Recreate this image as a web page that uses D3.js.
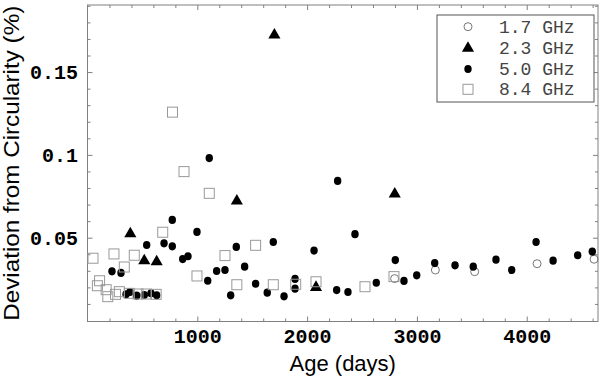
<!DOCTYPE html>
<html><head><meta charset="utf-8">
<script src="https://cdn.jsdelivr.net/npm/d3@7"></script>
<style>body{margin:0;background:#fff}svg{display:block}</style>
</head><body><svg id="c" width="600" height="380"></svg>
<script>
const ages17 = [2797, 3168, 3526, 4094, 4613];
const dev17  = [0.0253, 0.0305, 0.0295, 0.0343, 0.0370];

const ages23 = [390, 517, 630, 1360, 1702, 2081, 2798];
const dev23  = [0.0524, 0.0361, 0.0355, 0.0722, 0.1724, 0.0200, 0.0764];

const ages50 = [223, 305, 351, 387, 448, 517, 539, 578, 630, 697, 772, 772, 867, 915, 997, 1095, 1109, 1176, 1252, 1304,
  1355, 1431, 1531, 1637, 1692, 1790, 1890, 1890, 2063, 2269, 2278, 2372, 2436, 2630, 2803, 2882, 2998, 3162, 3347, 3513,
  3720, 3863, 4085, 4240, 4464, 4597];
const dev50  = [0.0297, 0.0287, 0.0158, 0.0172, 0.0150, 0.0154, 0.0456, 0.0164, 0.0152, 0.0466, 0.0607, 0.0448, 0.0371, 0.0388, 0.0535, 0.0240, 0.0981, 0.0299, 0.0305, 0.0152,
  0.0444, 0.0325, 0.0222, 0.0168, 0.0474, 0.0146, 0.0251, 0.0192, 0.0422, 0.0184, 0.0843, 0.0172, 0.0521, 0.0228, 0.0365, 0.0239, 0.0273, 0.0347, 0.0333, 0.0325,
  0.0367, 0.0305, 0.0474, 0.0361, 0.0394, 0.0416];

const ages84 = [50, 90, 110, 170, 185, 241, 255, 290, 335, 381, 426, 460, 536, 625, 685, 774, 879, 997, 1109, 1252, 1360, 1531, 1692, 1896, 2081, 2527, 2791];
const dev84  = [0.0376, 0.0210, 0.0240, 0.0186, 0.0144, 0.0402, 0.0158, 0.0174, 0.0323, 0.0164, 0.0394, 0.0160, 0.0160, 0.0158, 0.0533, 0.1258, 0.0899, 0.0269, 0.0768, 0.0392, 0.0216, 0.0454, 0.0216, 0.0219, 0.0234, 0.0204, 0.0265];

const xMajor = [1000, 2000, 3000, 4000];
const yMajor = [0.05, 0.1, 0.15];
const yLabels = ["0.05", "0.1", "0.15"];
const legendLabels = ["1.7 GHz", "2.3 GHz", "5.0 GHz", "8.4 GHz"];

const svg = d3.select("#c");
const L = 87.5, R = 598, T = 5, B = 321.5;
const x = d3.scaleLinear().domain([0, 4649]).range([L, R]);
const y = d3.scaleLinear().domain([-0.0006, 0.1905]).range([B, T]);

const xMinor = d3.range(200, 4650, 200).filter(v => v % 1000 !== 0);
const yMinor = d3.range(1, 20).map(v => v / 100).filter(v => Math.round(v * 100) % 5 !== 0);

const tickCol = "#808080";
function styleAxis(g) {
  g.select(".domain").remove();
  g.selectAll(".tick line").attr("stroke", tickCol);
}
// bottom
svg.append("g").attr("transform", `translate(0,${B})`)
  .call(d3.axisBottom(x).tickValues(xMinor).tickSize(-3).tickFormat("")).call(styleAxis);
svg.append("g").attr("transform", `translate(0,${B})`)
  .call(d3.axisBottom(x).tickValues(xMajor).tickSize(-5).tickPadding(7).tickFormat(d3.format("d")))
  .call(styleAxis)
  .selectAll("text").attr("font-family", "'Liberation Mono', monospace").attr("font-weight", "bold")
  .attr("font-size", 20).attr("fill", "#000");
// top
svg.append("g").attr("transform", `translate(0,${T})`)
  .call(d3.axisTop(x).tickValues(xMinor).tickSize(-3).tickFormat("")).call(styleAxis);
svg.append("g").attr("transform", `translate(0,${T})`)
  .call(d3.axisTop(x).tickValues(xMajor).tickSize(-5).tickFormat("")).call(styleAxis);
// left
svg.append("g").attr("transform", `translate(${L},0)`)
  .call(d3.axisLeft(y).tickValues(yMinor).tickSize(-3).tickFormat("")).call(styleAxis);
svg.append("g").attr("transform", `translate(${L},0)`)
  .call(d3.axisLeft(y).tickValues(yMajor).tickSize(-5).tickPadding(9.5).tickFormat((d, i) => yLabels[i]))
  .call(styleAxis)
  .selectAll("text").attr("font-family", "'Liberation Mono', monospace").attr("font-weight", "bold")
  .attr("font-size", 20).attr("fill", "#000");
// right
svg.append("g").attr("transform", `translate(${R},0)`)
  .call(d3.axisRight(y).tickValues(yMinor).tickSize(-3).tickFormat("")).call(styleAxis);
svg.append("g").attr("transform", `translate(${R},0)`)
  .call(d3.axisRight(y).tickValues(yMajor).tickSize(-5).tickFormat("")).call(styleAxis);

svg.append("rect").attr("x", L).attr("y", T).attr("width", R - L).attr("height", B - T)
  .attr("fill", "none").attr("stroke", tickCol).attr("stroke-width", 1);

// axis titles
svg.append("text").attr("x", (L + R) / 2).attr("y", 371).attr("text-anchor", "middle")
  .attr("font-family", "'Liberation Sans', Arial, sans-serif").attr("font-size", 22).text("Age (days)");
svg.append("text").attr("transform", `translate(19,${(T + B) / 2}) rotate(-90)`).attr("text-anchor", "middle")
  .attr("font-family", "'Liberation Sans', Arial, sans-serif").attr("font-size", 22)
  .attr("textLength", 315).attr("lengthAdjust", "spacingAndGlyphs")
  .text("Deviation from Circularity (%)");

// markers
const triPath = d3.symbol().type(d3.symbolTriangle).size(64)();
const plot = svg.append("g");
plot.selectAll("circle.s17").data(ages17).join("circle").attr("class", "s17")
  .attr("cx", d => x(d)).attr("cy", (d, i) => y(dev17[i])).attr("r", 4)
  .attr("fill", "none").attr("stroke", "#666").attr("stroke-width", 0.9);
plot.selectAll("path.s23").data(ages23).join("path").attr("class", "s23")
  .attr("d", triPath).attr("transform", (d, i) => `translate(${x(d)},${y(dev23[i])})`).attr("fill", "#000");
plot.selectAll("ellipse.s50").data(ages50).join("ellipse").attr("class", "s50")
  .attr("cx", d => x(d)).attr("cy", (d, i) => y(dev50[i])).attr("rx", 3.7).attr("ry", 4.1).attr("fill", "#000");
plot.selectAll("rect.s84").data(ages84).join("rect").attr("class", "s84")
  .attr("x", d => x(d) - 5).attr("y", (d, i) => y(dev84[i]) - 5).attr("width", 10).attr("height", 10)
  .attr("fill", "none").attr("stroke", "#999").attr("stroke-width", 1);

// legend
const lg = svg.append("g");
lg.append("rect").attr("x", 437).attr("y", 15).attr("width", 157).attr("height", 87)
  .attr("fill", "#fff").attr("stroke", "#555").attr("stroke-width", 1);
const ly = [26.7, 48.3, 69, 89.3];
lg.selectAll("text").data(legendLabels).join("text")
  .attr("x", 499).attr("y", (d, i) => ly[i] + 6).attr("font-family", "'Liberation Mono', monospace")
  .attr("font-size", 18).attr("fill", "#444").text(d => d);
lg.append("circle").attr("cx", 468).attr("cy", ly[0]).attr("r", 4).attr("fill", "none").attr("stroke", "#666").attr("stroke-width", 0.9);
lg.append("path").attr("d", triPath).attr("transform", `translate(468,${ly[1]})`).attr("fill", "#000");
lg.append("ellipse").attr("cx", 468).attr("cy", ly[2]).attr("rx", 3.7).attr("ry", 4.1).attr("fill", "#000");
lg.append("rect").attr("x", 463).attr("y", ly[3] - 5).attr("width", 10).attr("height", 10).attr("fill", "none").attr("stroke", "#999");
</script></body></html>
